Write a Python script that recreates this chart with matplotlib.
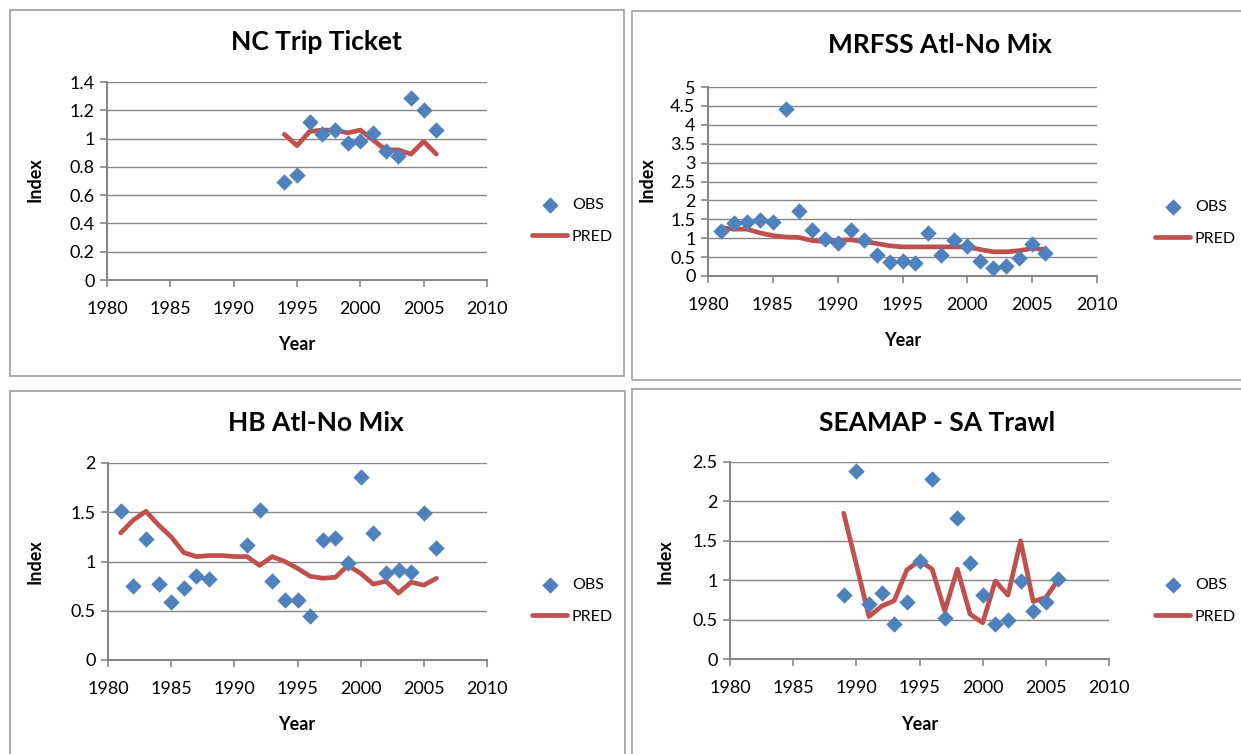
import matplotlib
matplotlib.use("Agg")
from matplotlib import pyplot as plt
from matplotlib.patches import Rectangle

plt.rcParams['font.family'] = ['Lato', 'DejaVu Sans']

# NC Trip Ticket
nc_years = list(range(1994, 2007))
nc_obs = [0.69, 0.74, 1.12, 1.03, 1.06, 0.97, 0.98, 1.04, 0.91, 0.88, 1.29, 1.20, 1.06]
nc_pred = [1.03, 0.95, 1.05, 1.06, 1.06, 1.04, 1.06, 0.99, 0.92, 0.92, 0.89, 0.98, 0.89]

# MRFSS Atl-No Mix
mrfss_years = list(range(1981, 2007))
mrfss_obs = [1.19, 1.39, 1.43, 1.48, 1.43, 4.43, 1.73, 1.21, 0.99, 0.88, 1.21, 0.95, 0.56,
             0.36, 0.40, 0.35, 1.14, 0.56, 0.96, 0.80, 0.40, 0.20, 0.27, 0.48, 0.84, 0.60]
mrfss_pred = [1.28, 1.24, 1.24, 1.14, 1.07, 1.03, 1.02, 0.94, 0.91, 0.94, 0.96, 0.91, 0.86,
              0.80, 0.77, 0.77, 0.77, 0.77, 0.77, 0.77, 0.70, 0.64, 0.64, 0.67, 0.73, 0.70]

# HB Atl-No Mix
hb_obs_years = [1981, 1982, 1983, 1984, 1985, 1986, 1987, 1988, 1991, 1992, 1993, 1994,
                1995, 1996, 1997, 1998, 1999, 2000, 2001, 2002, 2003, 2004, 2005, 2006]
hb_obs = [1.51, 0.75, 1.23, 0.77, 0.59, 0.73, 0.85, 0.82, 1.17, 1.52, 0.80, 0.61,
          0.61, 0.45, 1.22, 1.24, 0.98, 1.86, 1.29, 0.88, 0.91, 0.89, 1.49, 1.14]
hb_pred_years = list(range(1981, 2007))
hb_pred = [1.29, 1.42, 1.51, 1.37, 1.25, 1.09, 1.05, 1.06, 1.06, 1.05, 1.05, 0.96, 1.05,
           1.00, 0.93, 0.85, 0.83, 0.84, 0.96, 0.88, 0.77, 0.80, 0.68, 0.79, 0.76, 0.83]

# SEAMAP - SA Trawl
sea_years = list(range(1989, 2007))
sea_obs = [0.81, 2.39, 0.70, 0.84, 0.44, 0.72, 1.24, 2.28, 0.52, 1.79, 1.22, 0.81,
           0.45, 0.50, 0.99, 0.61, 0.72, 1.01]
sea_pred = [1.85, 1.20, 0.54, 0.67, 0.74, 1.13, 1.25, 1.14, 0.61, 1.14, 0.57, 0.46,
            0.99, 0.81, 1.50, 0.73, 0.78, 1.01]

W, H = 1241, 754
BLUE = "#4F81BD"
RED = "#C0504D"
GRAY = "#878787"


def fx(px):
    return px / W


def fy(py):
    return 1 - py / H


def draw_panel(fig, frame, box, title, title_xy, ylab_xy, xlab_xy, leg_xy,
               obs_x, obs_y, pred_x, pred_y, ymax, ystep):
    x0, y0, x1, y1 = frame
    fig.patches.append(Rectangle((fx(x0), fy(y1)), fx(x1 - x0), (y1 - y0) / H,
                                 transform=fig.transFigure, fill=False,
                                 edgecolor="#A5A5A5", lw=1.3))
    l, t, r, b = box
    ax = fig.add_axes([fx(l), fy(b), fx(r - l), (b - t) / H])
    ax.scatter(obs_x, obs_y, marker="D", s=70, color=BLUE, zorder=3, label="OBS",
               linewidths=0)
    ax.plot(pred_x, pred_y, color=RED, lw=3.4, zorder=2, label="PRED",
            solid_joinstyle="round", solid_capstyle="round")

    ax.set_xlim(1980, 2010)
    ax.set_xticks(range(1980, 2011, 5))
    ax.set_ylim(0, ymax)
    n = int(round(ymax / ystep))
    ax.set_yticks([i * ystep for i in range(n + 1)])
    ax.yaxis.set_major_formatter(matplotlib.ticker.FuncFormatter(lambda v, p: f"{v:g}"))
    ax.grid(True, axis="y", color=GRAY, lw=1)
    ax.set_axisbelow(True)
    for s in ("top", "right"):
        ax.spines[s].set_visible(False)
    for s in ("left", "bottom"):
        ax.spines[s].set_color(GRAY)
        ax.spines[s].set_linewidth(1.5)
    ax.tick_params(axis="both", colors=GRAY, labelcolor="black", labelsize=13,
                   length=5, width=1.2)
    ax.tick_params(axis="x", pad=10)
    ax.tick_params(axis="y", pad=4)

    ax.set_xlabel("Year", fontsize=13, fontweight="bold")
    ax.xaxis.label.set_va("center")
    ax.xaxis.set_label_coords(fx(xlab_xy[0]), fy(xlab_xy[1]), transform=fig.transFigure)
    ax.set_ylabel("Index", fontsize=13, fontweight="bold")
    ax.yaxis.label.set_va("center")
    ax.yaxis.set_label_coords(fx(ylab_xy[0]), fy(ylab_xy[1]), transform=fig.transFigure)

    fig.text(fx(title_xy[0]), fy(title_xy[1]), title, ha="center", va="center",
             fontsize=19, fontweight="bold")

    ax.legend(loc="center left", bbox_to_anchor=(fx(leg_xy[0]), fy(leg_xy[1])),
              bbox_transform=fig.transFigure, frameon=False, fontsize=11.5,
              borderpad=0, handlelength=2.2, handletextpad=0.3, labelspacing=1.1,
              scatterpoints=1)
    return ax


fig = plt.figure(figsize=(W / 100, H / 100), dpi=100)

draw_panel(fig, (10, 10, 624, 376), (107, 82, 487, 280), "NC Trip Ticket",
           (316, 42), (35, 180), (297, 345), (524, 221),
           nc_years, nc_obs, nc_years, nc_pred, 1.4, 0.2)
draw_panel(fig, (632, 11, 1245, 380), (708, 87, 1097, 276), "MRFSS Atl-No Mix",
           (940, 45), (647, 180), (903, 341), (1147, 223),
           mrfss_years, mrfss_obs, mrfss_years, mrfss_pred, 5, 0.5)
draw_panel(fig, (10, 391, 625, 760), (108, 463, 487, 660), "HB Atl-No Mix",
           (316, 423), (35, 562), (297, 725), (524, 601),
           hb_obs_years, hb_obs, hb_pred_years, hb_pred, 2, 0.5)
draw_panel(fig, (632, 389, 1245, 760), (730, 462, 1109, 659), "SEAMAP - SA Trawl",
           (937, 423), (665, 562), (920, 725), (1147, 601),
           sea_years, sea_obs, sea_years, sea_pred, 2.5, 0.5)

fig.savefig("out.png", dpi=100)
